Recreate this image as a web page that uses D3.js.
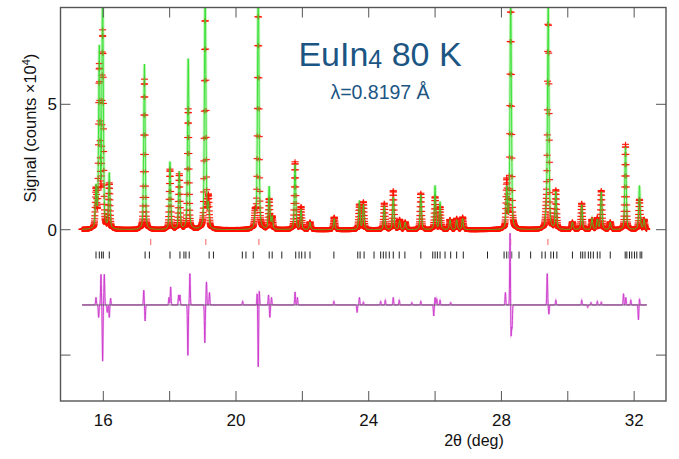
<!DOCTYPE html>
<html lang="en">
<head>
<meta charset="utf-8">
<title>EuIn4 80 K refinement</title>
<script src="https://d3js.org/d3.v7.min.js"></script>
<style>
  body { margin: 0; background: #fff; }
  text { font-family: "Liberation Sans", Arial, Helvetica, sans-serif; }
</style>
</head>
<body>
<svg id="chart" width="679" height="459"></svg>
<script>
// peak list (2theta in deg, heights in 10^4 counts)
const peakPos = [15.78, 15.88, 15.98, 16.18, 17.24, 18.01, 18.29, 18.56, 19.07, 19.17,
  20.58, 20.67, 21.00, 21.09, 21.78, 21.96, 22.23, 22.96, 23.72, 23.84,
  24.47, 24.74, 24.93, 25.10, 25.57, 26.00, 26.15, 26.45, 26.65, 26.83,
  28.16, 28.28, 29.35, 29.41, 29.64, 30.14, 30.42, 30.73, 30.89, 31.01,
  31.28, 31.74, 32.16, 32.30];
const obsHeight = [1.5, 6.4, 7.8, 1.8, 6.0, 2.4, 2.2, 4.8, 9.4, 1.2,
  0.6, 9.6, 1.2, 0.5, 2.7, 0.9, 0.3, 0.5, 1.0, 1.1,
  1.05, 1.55, 0.4, 0.3, 1.45, 1.3, 0.9, 0.4, 0.45, 0.5,
  1.9, 9.8, 0.6, 9.2, 1.55, 0.3, 1.05, 0.4, 0.45, 1.55,
  0.3, 3.4, 1.2, 0.4];
const calcHeight = [1.6, 7.1, 9.6, 2.2, 6.6, 2.7, 2.3, 6.8, 9.8, 0.9,
  0.5, 10.2, 1.7, 0.5, 2.6, 0.8, 0.3, 0.45, 1.15, 1.0,
  0.95, 1.3, 0.35, 0.3, 1.4, 1.75, 1.1, 0.4, 0.4, 0.45,
  1.6, 9.4, 0.5, 9.0, 1.5, 0.3, 1.0, 0.45, 0.4, 1.5,
  0.3, 3.3, 1.75, 0.4];

// difference curve features (obs - calc), drawn around diffOffset
const diffPos = [15.78, 15.86, 15.93, 15.98, 16.03, 16.12, 16.18, 16.22, 17.22, 17.26,
  17.98, 18.03, 18.27, 18.31, 18.55, 18.61, 19.06, 19.11, 19.20, 20.20,
  20.64, 20.67, 20.70, 20.98, 21.02, 21.07, 21.78, 21.85, 22.95, 23.65,
  23.72, 23.84, 24.36, 24.50, 24.74, 24.92, 25.30, 25.57, 25.96, 26.00,
  26.05, 26.15, 26.47, 28.12, 28.26, 28.29, 28.32, 29.38, 29.43, 29.64,
  30.42, 30.60, 30.70, 30.89, 31.01, 31.68, 31.75, 31.90, 32.13, 32.16];
const diffAmp = [0.3, -0.5, 1.22, -2.24, 1.22, -0.3, -0.5, 0.27, 0.59, -0.64,
  0.3, 0.72, 0.4, 0.4, -2.01, 1.25, -1.51, 0.92, 0.5, 0.15,
  0.5, -2.5, 0.61, 0.4, -0.5, 0.3, 0.52, 0.3, 0.15, -0.3,
  0.3, 0.12, 0.15, 0.2, 0.3, 0.2, 0.1, 0.15, -0.44, 0.3,
  0.25, 0.2, 0.1, 0.5, 2.9, -1.3, -0.9, 1.25, -0.37, 0.2,
  0.2, -0.1, 0.1, 0.15, 0.12, 0.45, 0.3, 0.2, -0.6, 0.25];
const diffOffset = -3.0;

// reflection markers
const mainTicks = [15.78, 15.88, 15.95, 16.00, 16.18, 17.26, 17.39, 18.01, 18.31, 18.43,
  18.49, 18.59, 19.19, 19.32, 20.19, 20.30, 20.52, 21.00, 21.09, 21.38,
  21.80, 21.90, 21.98, 22.08, 22.23, 22.95, 23.67, 23.74, 23.86, 24.16,
  24.36, 24.44, 24.52, 24.62, 24.74, 24.92, 25.09, 25.57, 25.93, 26.00,
  26.07, 26.15, 26.30, 26.47, 26.65, 26.85, 27.58, 28.08, 28.16, 28.23,
  28.31, 28.53, 28.88, 29.22, 29.32, 29.49, 29.57, 29.67, 30.14, 30.39,
  30.45, 30.52, 30.62, 30.69, 30.77, 30.89, 30.97, 31.28, 31.73, 31.78,
  31.86, 31.93, 32.01, 32.08, 32.18, 32.23];
const secondTicks = [17.43, 19.09, 20.69, 28.28, 29.40];

const scanStart = 15.36, scanEnd = 32.38, scanStep = 0.005;
const xTicks = [16, 18, 20, 22, 24, 26, 28, 30, 32];
const xLabels = [16, 20, 24, 28, 32];
const yTicks = [-5, 0, 5];
const yLabels = [0, 5];

const svg = d3.select("#chart");
const mLeft = 60.5, mRight = 666, mTop = 7.5, mBottom = 401;

const x = d3.scaleLinear().domain([14.71, 32.96]).range([mLeft, mRight]);
const y = d3.scaleLinear().domain([-6.83, 8.86]).range([mBottom, mTop]);

// pseudo-voigt profile
const hw = 0.025, eta = 0.4;
function profile(t, heights) {
  let s = 0;
  for (let i = 0; i < peakPos.length; i++) {
    const u = (t - peakPos[i]) / hw;
    if (Math.abs(u) > 40) continue;
    s += heights[i] * (eta / (1 + u * u) + (1 - eta) * Math.exp(-Math.LN2 * u * u));
  }
  return s;
}
function diffAt(t) {
  let s = 0;
  for (let i = 0; i < diffPos.length; i++) {
    const u = (t - diffPos[i]) / 0.016;
    s += diffAmp[i] * Math.exp(-u * u);
  }
  return s;
}

const grid = d3.range(scanStart, scanEnd, scanStep);
const obs = grid.map(t => ({ t, v: profile(t, obsHeight) }));
const calc = grid.map(t => ({ t, v: profile(t, calcHeight) }));
const diff = grid.map(t => ({ t, v: diffOffset + diffAt(t) }));

svg.append("defs").append("clipPath").attr("id", "clip")
  .append("rect").attr("x", mLeft).attr("y", mTop)
  .attr("width", mRight - mLeft).attr("height", mBottom - mTop);

const plot = svg.append("g").attr("clip-path", "url(#clip)");
const line = d3.line().x(d => x(d.t)).y(d => y(d.v));

// calc halo
plot.append("path").datum(calc).attr("d", line)
  .attr("fill", "none").attr("stroke", "#c6f5bc").attr("stroke-width", 3);

// observed crosses
let crossPath = "";
obs.forEach(d => {
  const px = x(d.t), py = y(d.v);
  crossPath += `M${px - 3.5},${py}h7M${px},${py - 2.5}v5`;
});
plot.append("path").attr("d", crossPath)
  .attr("fill", "none").attr("stroke", "#ffa0a0").attr("stroke-width", 2.2).attr("opacity", 0.3);
plot.append("path").attr("d", crossPath)
  .attr("fill", "none").attr("stroke", "#ff1200").attr("stroke-width", 1);

// calc line
plot.append("path").datum(calc).attr("d", line)
  .attr("fill", "none").attr("stroke", "#2ee02e").attr("stroke-width", 0.9);

// reflection markers
plot.append("g").selectAll("line").data(secondTicks).join("line")
  .attr("x1", d => x(d)).attr("x2", d => x(d))
  .attr("y1", 239).attr("y2", 245)
  .attr("stroke", "#ff6060").attr("stroke-width", 1);
plot.append("g").selectAll("line").data(mainTicks).join("line")
  .attr("x1", d => x(d)).attr("x2", d => x(d))
  .attr("y1", 251.5).attr("y2", 258.5)
  .attr("stroke", "#222").attr("stroke-width", 1);

// difference curve
plot.append("path").datum(diff).attr("d", line)
  .attr("fill", "none").attr("stroke", "#f0c4f0").attr("stroke-width", 2);
plot.append("path").datum(diff).attr("d", line)
  .attr("fill", "none").attr("stroke", "#cc33cc").attr("stroke-width", 0.9);
plot.append("line")
  .attr("x1", x(scanStart)).attr("x2", x(scanEnd))
  .attr("y1", y(diffOffset)).attr("y2", y(diffOffset))
  .attr("stroke", "#444").attr("stroke-width", 0.8).attr("opacity", 0.85);

// frame and ticks
svg.append("rect").attr("x", mLeft).attr("y", mTop)
  .attr("width", mRight - mLeft).attr("height", mBottom - mTop)
  .attr("fill", "none").attr("stroke", "#555").attr("stroke-width", 1.4);

const tk = 10;
const axes = svg.append("g").attr("stroke", "#555").attr("stroke-width", 1);
xTicks.forEach(v => {
  axes.append("line").attr("x1", x(v)).attr("x2", x(v)).attr("y1", mBottom).attr("y2", mBottom - tk);
  axes.append("line").attr("x1", x(v)).attr("x2", x(v)).attr("y1", mTop).attr("y2", mTop + tk);
});
yTicks.forEach(v => {
  axes.append("line").attr("x1", mLeft).attr("x2", mLeft + tk).attr("y1", y(v)).attr("y2", y(v));
  axes.append("line").attr("x1", mRight).attr("x2", mRight - tk).attr("y1", y(v)).attr("y2", y(v));
});

svg.append("g").selectAll("text").data(xLabels).join("text")
  .attr("x", d => x(d)).attr("y", 426)
  .attr("text-anchor", "middle").attr("font-size", 17).attr("fill", "#111")
  .text(d => d);
svg.append("g").selectAll("text").data(yLabels).join("text")
  .attr("x", 57).attr("y", d => y(d) + 6)
  .attr("text-anchor", "end").attr("font-size", 17).attr("fill", "#111")
  .text(d => d);

svg.append("text").attr("x", 474).attr("y", 446)
  .attr("text-anchor", "middle").attr("font-size", 16).attr("fill", "#111")
  .text("2θ (deg)");

const ylab = svg.append("text")
  .attr("transform", "translate(36,128) rotate(-90)")
  .attr("text-anchor", "middle").attr("font-size", 16.5).attr("fill", "#111");
ylab.append("tspan").text("Signal (counts ×10");
ylab.append("tspan").attr("font-size", 11).attr("dy", -6).text("4");
ylab.append("tspan").attr("dy", 6).text(")");

// title
const title = svg.append("text").attr("x", 380).attr("y", 66)
  .attr("text-anchor", "middle").attr("font-size", 34).attr("fill", "#1b5583");
title.append("tspan").text("EuIn");
title.append("tspan").attr("font-size", 25).attr("dy", 2).text("4");
title.append("tspan").attr("dy", -2).text(" 80 K");

svg.append("text").attr("x", 380).attr("y", 99)
  .attr("text-anchor", "middle").attr("font-size", 19.5).attr("fill", "#1b5583")
  .text("λ=0.8197 Å");
</script>
</body>
</html>
